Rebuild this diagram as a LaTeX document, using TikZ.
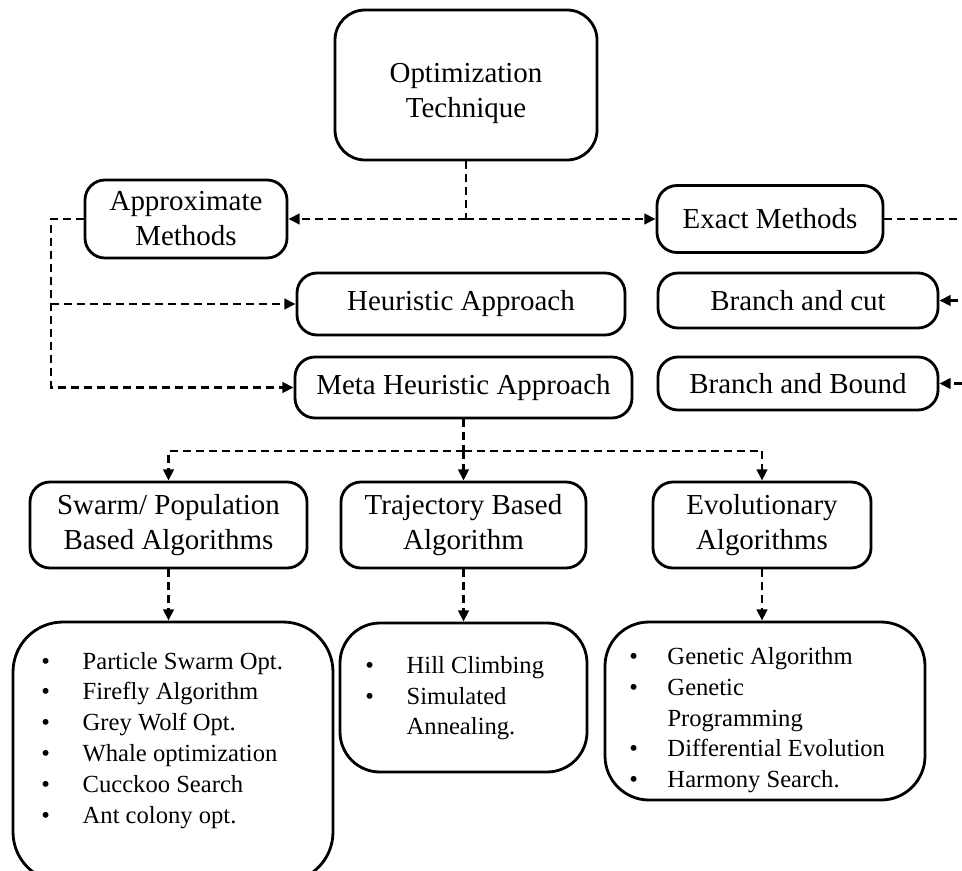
\documentclass[tikz,border=0pt]{standalone}
\usepackage{fontspec}
\setmainfont{Liberation Serif}
\usetikzlibrary{arrows.meta}
\tikzset{
  tbox/.style={draw=black,line width=2pt,rounded corners=0.5cm,align=center,inner sep=2pt,font=\fontsize{20.6}{24.9}\selectfont},
  lbox/.style={draw=black,line width=2pt,rounded corners=1.1cm},
  ltext/.style={anchor=west,inner sep=0pt,font=\fontsize{17.5}{21.9}\selectfont},
  dline/.style={line width=1.9pt,dash pattern=on 0.2cm off 0.125cm},
  dflow/.style={dline,-{Triangle[length=0.28cm,width=0.26cm]}}
}
\begin{document}
\begin{tikzpicture}[x=1cm,y=1cm]
  \useasboundingbox (0,0) rectangle (24.05,21.75);
  % top
  \node[tbox,rounded corners=0.75cm,minimum width=6.55cm,minimum height=3.75cm] (opt) at (11.65,19.625)
    {\raisebox{-0.2cm}[\height][\depth]{\begin{tabular}{@{}c@{}}Optimization\\Technique\end{tabular}}};
  \node[tbox,minimum width=5.05cm,minimum height=1.95cm] (appr) at (4.65,16.275) {Approximate\\Methods};
  \node[tbox,minimum width=5.65cm,minimum height=1.675cm] (exact) at (19.25,16.275) {Exact Methods};
  % approaches
  \node[tbox,minimum width=8.2cm,minimum height=1.55cm] (heur) at (11.525,14.15) {Heuristic Approach};
  \node[tbox,minimum width=8.425cm,minimum height=1.525cm] (meta) at (11.5875,12.0625) {Meta Heuristic Approach};
  \node[tbox,minimum width=7cm,minimum height=1.375cm] (bcut) at (19.95,14.2375) {Branch and cut};
  \node[tbox,minimum width=7cm,minimum height=1.325cm] (bbound) at (19.95,12.1625) {Branch and Bound};
  % families
  \node[tbox,minimum width=6.925cm,minimum height=2.15cm] (swarm) at (4.2125,8.625) {Swarm/ Population\\Based Algorithms};
  \node[tbox,minimum width=6.125cm,minimum height=2.15cm] (traj) at (11.5875,8.625) {Trajectory Based\\Algorithm};
  \node[tbox,minimum width=5.45cm,minimum height=2.15cm] (evo) at (19.05,8.625) {Evolutionary\\Algorithms};
  % lists
  \node[lbox,rounded corners=1.25cm,minimum width=8cm,minimum height=6.5cm] (swarmlist) at (4.325,2.95) {};
  \node[lbox,rounded corners=1cm,minimum width=6.175cm,minimum height=3.725cm] (trajlist) at (11.5875,4.3125) {};
  \node[lbox,minimum width=8cm,minimum height=4.45cm] (evolist) at (19.125,3.975) {};
  \node[ltext] (swarmitems) at (1.025,3.25) {\begin{tabular}{@{}l@{\hspace{0.82cm}}l@{}}
    \textbullet & Particle Swarm Opt.\\
    \textbullet & Firefly Algorithm\\
    \textbullet & Grey Wolf Opt.\\
    \textbullet & Whale optimization\\
    \textbullet & Cucckoo Search\\
    \textbullet & Ant colony opt.
  \end{tabular}};
  \node[ltext] (trajitems) at (9.125,4.3) {\begin{tabular}{@{}l@{\hspace{0.82cm}}l@{}}
    \textbullet & Hill Climbing\\
    \textbullet & Simulated\\
     & Annealing.
  \end{tabular}};
  \node[ltext] (evoitems) at (15.725,3.75) {\begin{tabular}{@{}l@{\hspace{0.74cm}}l@{}}
    \textbullet & Genetic Algorithm\\
    \textbullet & Genetic\\
     & Programming\\
    \textbullet & Differential Evolution\\
    \textbullet & Harmony Search.
  \end{tabular}};
  % top split
  \coordinate (optsplit) at (11.65,16.275);
  \draw[dline] (opt.south) -- (optsplit);
  \draw[dflow] (optsplit) -- (appr.east);
  \draw[dflow] (optsplit) -- (exact.west);
  % approximate side
  \coordinate (lrail) at (1.275,16.275);
  \draw[dflow] (appr.west) -- (lrail) |- (meta.west);
  \draw[dflow] (lrail |- heur.west) -- (heur.west);
  % exact side, rail runs past the edge
  \coordinate (rrail) at (24.6,16.275);
  \draw[dflow] (exact.east) -- (rrail) |- (bbound.east);
  \draw[dflow] (rrail |- bcut.east) -- (bcut.east);
  % meta heuristic families
  \coordinate (metasplit) at (11.5875,10.475);
  \draw[dline] (meta.south) -- (metasplit);
  \draw[dflow] (metasplit) -| (swarm.north);
  \draw[dflow] (metasplit) -- (traj.north);
  \draw[dflow] (metasplit) -| (evo.north);
  % down to the lists
  \draw[dflow] (swarm.south) -- (swarm.south |- swarmlist.north);
  \draw[dflow] (traj.south) -- (trajlist.north);
  \draw[dflow] (evo.south) -- (evo.south |- evolist.north);
\end{tikzpicture}
\end{document}
